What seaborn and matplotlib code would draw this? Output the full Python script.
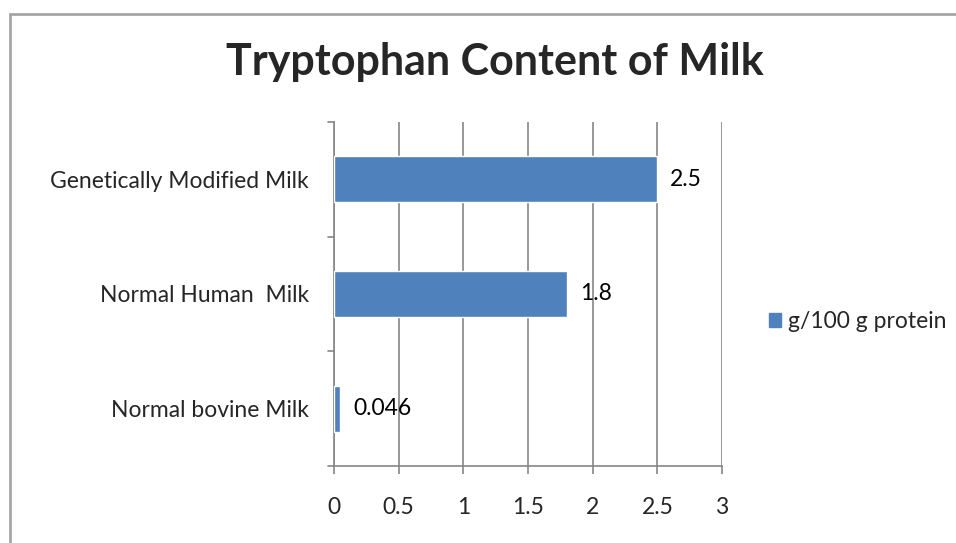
import matplotlib
matplotlib.use("Agg")
import matplotlib.pyplot as plt
import seaborn as sns
import pandas as pd
from matplotlib.lines import Line2D
from matplotlib.patches import Patch

categories = ["Genetically Modified Milk", "Normal Human  Milk", "Normal bovine Milk"]
values = [2.5, 1.8, 0.046]
value_labels = ["2.5", "1.8", "0.046"]
series_name = "g/100 g protein"
xticks = [0, 0.5, 1, 1.5, 2, 2.5, 3]
xtick_labels = ["0", "0.5", "1", "1.5", "2", "2.5", "3"]

df = pd.DataFrame({"category": categories, "value": values})

sns.set_style("white")
plt.rcParams['font.family'] = ['Lato', 'DejaVu Sans']

BAR = "#4F81BD"
GRID = "#868686"
FS = 16.5
fig = plt.figure(figsize=(9.56, 5.43), dpi=100)
ax = fig.add_axes([334/956, 1-466/543, (722-334)/956, (466-122)/543])

sns.barplot(data=df, y="category", x="value", orient="h", color=BAR,
            width=0.4, saturation=1, ax=ax, zorder=3)

ax.set_xlim(0, 3)
ax.set_ylim(2.5, -0.5)
ax.set_xticks(xticks)
ax.set_xticklabels(xtick_labels, fontsize=FS)
ax.set_xlabel("")
ax.set_ylabel("")
ax.set_yticks([0, 1, 2])
ax.set_yticklabels(categories, fontsize=FS)
ax.tick_params(axis="y", length=0, pad=18)
ax.tick_params(axis="x", length=6, width=1.2, color=GRID, pad=16, direction="out")
ax.xaxis.set_tick_params(bottom=True)

# category separators on the left axis
for yb in [-0.5, 0.5, 1.5, 2.5]:
    ax.plot([-0.05, 0], [yb, yb], color=GRID, lw=1.2, clip_on=False, transform=ax.transData, zorder=4)

ax.grid(axis="x", color=GRID, lw=1.2, zorder=0)
ax.set_axisbelow(True)
for s in ["top", "right"]:
    ax.spines[s].set_visible(False)
for s in ["left", "bottom"]:
    ax.spines[s].set_color(GRID)
    ax.spines[s].set_linewidth(1.2)

for i, (v, lab) in enumerate(zip(values, value_labels)):
    ax.text(v + 0.1, i, lab, va="center", ha="left", fontsize=FS, color="black")

fig.text(495/956, 1-62/543, "Tryptophan Content of Milk", ha="center", va="center",
         fontsize=31, fontweight="bold")

handle = Patch(facecolor=BAR, edgecolor=BAR)
fig.legend([handle], [series_name], loc="center left", bbox_to_anchor=(748/956, 1-322/543),
           frameon=False, fontsize=FS, handlelength=0.55, handleheight=0.55, handletextpad=0.3)

# outer border
fig.add_artist(Line2D([10/956, 10/956], [0, 1-14/543], color="#A6A6A6", lw=2, transform=fig.transFigure))
fig.add_artist(Line2D([10/956, 1], [1-14/543, 1-14/543], color="#A6A6A6", lw=2, transform=fig.transFigure))

fig.savefig("out.png", dpi=100)
